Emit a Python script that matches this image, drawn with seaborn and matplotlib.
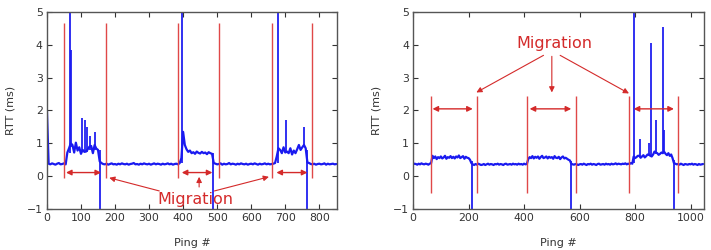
import numpy as np
import pandas as pd
import matplotlib
matplotlib.use("Agg")
import matplotlib.pyplot as plt
import seaborn as sns

# ---- data (one value every 5 pings) ----
left_step = 5
left_rtt = [
    2.00, 0.38, 0.36, 0.39, 0.37, 0.35, 0.38, 0.40, 0.36, 0.37,
    0.39, 0.36, 0.72, 0.85, 1.00, 0.95, 0.72, 1.02, 0.78, 0.88,
    0.68, 0.80, 0.74, 0.75, 0.82, 0.90, 0.92, 0.70, 0.95, 0.84,
    0.80, 0.45, 0.40, 0.37, 0.36, 0.38, 0.35, 0.37, 0.39, 0.36,
    0.37, 0.35, 0.38, 0.36, 0.39, 0.37, 0.36, 0.38, 0.35, 0.37,
    0.38, 0.40, 0.36, 0.37, 0.35, 0.38, 0.36, 0.39, 0.37, 0.36,
    0.38, 0.35, 0.37, 0.39, 0.36, 0.38, 0.37, 0.35, 0.38, 0.36,
    0.37, 0.39, 0.36, 0.38, 0.35, 0.37, 0.38, 0.36, 0.40, 0.55,
    1.35, 0.95, 0.82, 0.74, 0.78, 0.70, 0.73, 0.68, 0.75, 0.71,
    0.69, 0.74, 0.70, 0.72, 0.67, 0.73, 0.70, 0.68, 0.40, 0.38,
    0.36, 0.37, 0.39, 0.35, 0.38, 0.36, 0.37, 0.40, 0.36, 0.38,
    0.37, 0.35, 0.38, 0.36, 0.39, 0.37, 0.36, 0.38, 0.35, 0.37,
    0.38, 0.36, 0.39, 0.37, 0.35, 0.38, 0.36, 0.37, 0.39, 0.36,
    0.38, 0.36, 0.37, 0.38, 0.40, 0.60, 0.85, 0.80, 0.70, 0.88,
    0.72, 0.75, 0.70, 0.85, 0.66, 0.78, 0.70, 0.82, 0.95, 0.80,
    0.88, 0.95, 0.85, 0.42, 0.40, 0.37, 0.36, 0.38, 0.35, 0.37,
    0.38, 0.36, 0.37, 0.39, 0.35, 0.38, 0.36, 0.37, 0.38, 0.36,
    0.37,
]
# single-ping excursions (spikes and drops): ping, level before, peak value
left_spike_ping = [68, 70, 103, 113, 117, 126, 141, 157, 398, 488, 680, 703, 755, 765]
left_spike_base = [0.70, 0.90, 0.75, 0.75, 0.75, 0.80, 0.80, 0.80, 0.40, 0.70, 0.40, 0.75, 0.90, 0.80]
left_spike_peak = [6.00, 3.85, 1.77, 1.72, 1.50, 1.23, 1.33, -1.50, 6.00, -1.50, 6.00, 1.71, 1.50, -1.50]
left_lines = [51, 173, 385, 505, 660, 779]
left_spans = [(56, 159), (396, 486), (674, 765)]

right_step = 5
right_rtt = [
    0.36, 0.38, 0.37, 0.35, 0.38, 0.36, 0.39, 0.37, 0.36, 0.38,
    0.37, 0.35, 0.38, 0.40, 0.62, 0.55, 0.60, 0.52, 0.58, 0.55,
    0.60, 0.54, 0.57, 0.62, 0.53, 0.58, 0.56, 0.61, 0.55, 0.59,
    0.54, 0.60, 0.57, 0.63, 0.55, 0.58, 0.61, 0.53, 0.59, 0.56,
    0.55, 0.50, 0.40, 0.36, 0.34, 0.37, 0.35, 0.38, 0.36, 0.34,
    0.35, 0.37, 0.34, 0.36, 0.38, 0.35, 0.37, 0.36, 0.34, 0.37,
    0.36, 0.38, 0.35, 0.37, 0.36, 0.34, 0.37, 0.38, 0.35, 0.36,
    0.37, 0.35, 0.38, 0.36, 0.37, 0.35, 0.38, 0.36, 0.37, 0.35,
    0.38, 0.36, 0.37, 0.52, 0.58, 0.55, 0.61, 0.54, 0.59, 0.56,
    0.60, 0.53, 0.58, 0.62, 0.55, 0.57, 0.60, 0.54, 0.59, 0.56,
    0.58, 0.53, 0.61, 0.56, 0.55, 0.59, 0.52, 0.57, 0.60, 0.54,
    0.56, 0.53, 0.50, 0.48, 0.38, 0.36, 0.35, 0.37, 0.36, 0.34,
    0.36, 0.37, 0.35, 0.38, 0.36, 0.34, 0.37, 0.36, 0.38, 0.35,
    0.37, 0.36, 0.34, 0.37, 0.38, 0.35, 0.36, 0.37, 0.35, 0.38,
    0.36, 0.37, 0.35, 0.38, 0.36, 0.37, 0.39, 0.36, 0.38, 0.37,
    0.36, 0.38, 0.37, 0.39, 0.36, 0.38, 0.37, 0.40, 0.38, 0.60,
    0.55, 0.58, 0.62, 0.62, 0.56, 0.60, 0.64, 0.57, 0.61, 0.66,
    0.66, 0.62, 0.60, 0.66, 0.75, 0.72, 0.70, 0.65, 0.68, 0.72,
    0.70, 0.74, 0.68, 0.64, 0.70, 0.62, 0.66, 0.55, 0.40, 0.38,
    0.36, 0.37, 0.35, 0.38, 0.36, 0.34, 0.37, 0.36, 0.35, 0.37,
    0.36, 0.38, 0.35, 0.37, 0.36, 0.34, 0.37, 0.35, 0.36, 0.37,
]
right_spike_ping = [213, 570, 795, 816, 850, 858, 877, 900, 905, 940]
right_spike_base = [0.45, 0.45, 0.40, 0.60, 0.62, 0.62, 0.68, 0.70, 0.70, 0.50]
right_spike_peak = [-1.50, -1.50, 6.00, 1.12, 1.00, 4.05, 1.70, 4.55, 1.40, -1.50]
right_lines = [65, 230, 410, 588, 778, 954]
right_spans = [(70, 215), (420, 570), (795, 940)]

left_df = pd.DataFrame({"ping": np.arange(len(left_rtt)) * left_step, "rtt": left_rtt})
right_df = pd.DataFrame({"ping": np.arange(len(right_rtt)) * right_step, "rtt": right_rtt})

# ---- style ----
sns.set_style("ticks")
plt.rcParams["font.family"] = ["DejaVu Sans"]
plt.rcParams["axes.edgecolor"] = "#555555"
plt.rcParams["xtick.color"] = "#333333"
plt.rcParams["ytick.color"] = "#333333"

BLUE = "#1a1af0"
RED = "#d42a2a"
LINE_RED = "#e04848"

fig = plt.figure(figsize=(7.11, 2.5), dpi=100)
ax1 = fig.add_axes([0.066, 0.164, 0.408, 0.788])
ax2 = fig.add_axes([0.581, 0.164, 0.409, 0.788])


def style_axes(ax, xmax, xticks):
    ax.set_xlim(0, xmax)
    ax.set_ylim(-1, 5)
    ax.set_xticks(xticks)
    ax.set_yticks(range(-1, 6))
    ax.set_yticklabels(["\u22121", "0", "1", "2", "3", "4", "5"])
    ax.tick_params(direction="in", length=3.5, width=0.8, top=True, right=True,
                   labelsize=7.8, pad=3)
    for s in ax.spines.values():
        s.set_linewidth(1.0)
        s.set_visible(True)
    ax.set_xlabel("Ping #", fontsize=8, color="#333333", labelpad=11)
    ax.set_ylabel("RTT (ms)", fontsize=8, color="#333333", labelpad=8)


arrow2 = dict(arrowstyle="<|-|>", color=RED, lw=1.0, mutation_scale=8, shrinkA=0, shrinkB=0)
arrow1 = dict(arrowstyle="-|>", color=RED, lw=0.8, mutation_scale=8, shrinkA=0, shrinkB=0)

# left panel
sns.lineplot(data=left_df, x="ping", y="rtt", ax=ax1, color=BLUE, lw=1.6,
             estimator=None, sort=False)
ax1.vlines(left_spike_ping, left_spike_base, left_spike_peak, color=BLUE, lw=1.4, alpha=0.9)
ax1.vlines(left_lines, -0.05, 4.68, color=LINE_RED, lw=1.0)
for a, b in left_spans:
    ax1.annotate("", xy=(a, 0.11), xytext=(b, 0.11), arrowprops=arrow2)
ax1.text(437, -0.72, "Migration", color=RED, fontsize=11.5, ha="center", va="center")
ax1.annotate("", xy=(183, -0.05), xytext=(330, -0.45), arrowprops=arrow1)
ax1.annotate("", xy=(447, -0.02), xytext=(447, -0.33), arrowprops=arrow1)
ax1.annotate("", xy=(652, -0.02), xytext=(492, -0.45), arrowprops=arrow1)
style_axes(ax1, 852, range(0, 900, 100))

# right panel
sns.lineplot(data=right_df, x="ping", y="rtt", ax=ax2, color=BLUE, lw=1.6,
             estimator=None, sort=False)
ax2.vlines(right_spike_ping, right_spike_base, right_spike_peak, color=BLUE, lw=1.4, alpha=0.9)
ax2.vlines(right_lines, -0.5, 2.43, color=LINE_RED, lw=1.0)
for a, b in right_spans:
    ax2.annotate("", xy=(a, 2.05), xytext=(b, 2.05), arrowprops=arrow2)
ax2.text(510, 4.05, "Migration", color=RED, fontsize=11.5, ha="center", va="center")
ax2.annotate("", xy=(228, 2.55), xytext=(470, 3.68), arrowprops=arrow1)
ax2.annotate("", xy=(500, 2.55), xytext=(500, 3.65), arrowprops=arrow1)
ax2.annotate("", xy=(778, 2.52), xytext=(530, 3.68), arrowprops=arrow1)
style_axes(ax2, 1048, range(0, 1100, 200))

fig.savefig("out.png", dpi=100)
